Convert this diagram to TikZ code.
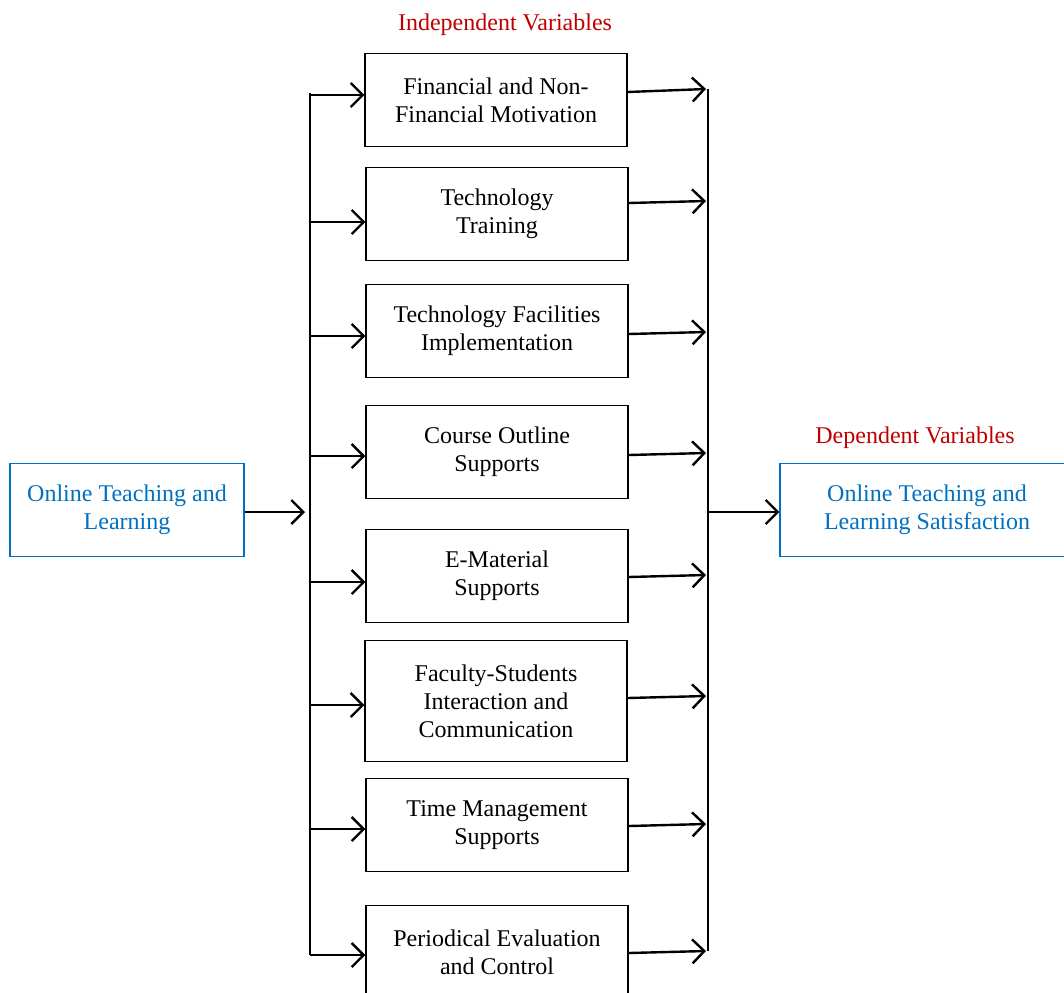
\documentclass[tikz,border=0pt]{standalone}
\usepackage{fontspec}
\setmainfont{Liberation Serif}
\usetikzlibrary{arrows.meta}
\definecolor{varred}{HTML}{C00000}
\definecolor{varblue}{HTML}{0070C0}
\tikzset{
  txt/.style={font=\fontsize{12}{14}\selectfont, align=center},
  factor/.style={txt, draw, line width=0.6pt, minimum width=131pt, minimum height=46.5pt, inner sep=0pt},
  endbox/.style={txt, draw=varblue, text=varblue, line width=0.6pt, minimum width=117pt, minimum height=46.5pt, inner sep=0pt},
  heading/.style={txt, text=varred},
  link/.style={line width=1.2pt, -{Straight Barb[length=6pt, width=12pt, line width=1.2pt]}},
  bus/.style={line width=0.6pt}
}
\begin{document}
\begin{tikzpicture}[x=0.5pt, y=-0.5pt]
  \useasboundingbox (0,0) rectangle (1064,992);
  \begin{scope}
    \clip (0,0) rectangle (1064,992);

    % headings
    \node[heading] (indep) at (505,25) {Independent Variables};
    \node[heading] (dep) at (915,438) {Dependent Variables};

    % outer boxes
    \node[endbox] (online) at (127,510) {Online Teaching and\\Learning};
    \node[endbox, minimum width=147pt] (satis) at (927,510) {Online Teaching and\\Learning Satisfaction};

    % the eight factors
    \node[factor] (f1) at (496,100) {Financial and Non-\\Financial Motivation};
    \node[factor] (f2) at (497,214) {Technology\\Training};
    \node[factor] (f3) at (497,331) {Technology Facilities\\Implementation};
    \node[factor] (f4) at (497,452) {Course Outline\\Supports};
    \node[factor] (f5) at (497,576) {E-Material\\Supports};
    \node[factor, minimum height=60.5pt] (f6) at (496,701) {Faculty-Students\\Interaction and\\Communication};
    \node[factor] (f7) at (497,825) {Time Management\\Supports};
    \node[factor] (f8) at (497,952) {Periodical Evaluation\\and Control};

    % buses
    \coordinate (busLtop) at (310,93);
    \coordinate (busLbot) at (310,955);
    \coordinate (busRtop) at (708,89);
    \coordinate (busRbot) at (708,951);
    \draw[bus] (busLtop) -- (busLbot);
    \draw[bus] (busRtop) -- (busRbot);

    \coordinate (inL) at (305,512);
    \coordinate (outR) at (708,512);
    \draw[link] (online.east |- inL) -- (inL);
    \draw[link] (outR) -- (satis.west |- outR);

    % branches
    \foreach \i/\yl/\ya/\yb in {1/95/92/89, 2/222/203/201, 3/336/334/332, 4/456/455/453,
                                5/582/577/575, 6/705/698/696, 7/829/826/824, 8/955/953/951}{
      \coordinate (tapL\i) at (310,\yl);
      \coordinate (outF\i) at (629,\ya);
      \coordinate (tapR\i) at (706,\yb);
      \draw[link] (tapL\i) -- (f\i.west |- tapL\i);
      \draw[link] (f\i.east |- outF\i) -- (tapR\i);
    }
  \end{scope}
\end{tikzpicture}
\end{document}
